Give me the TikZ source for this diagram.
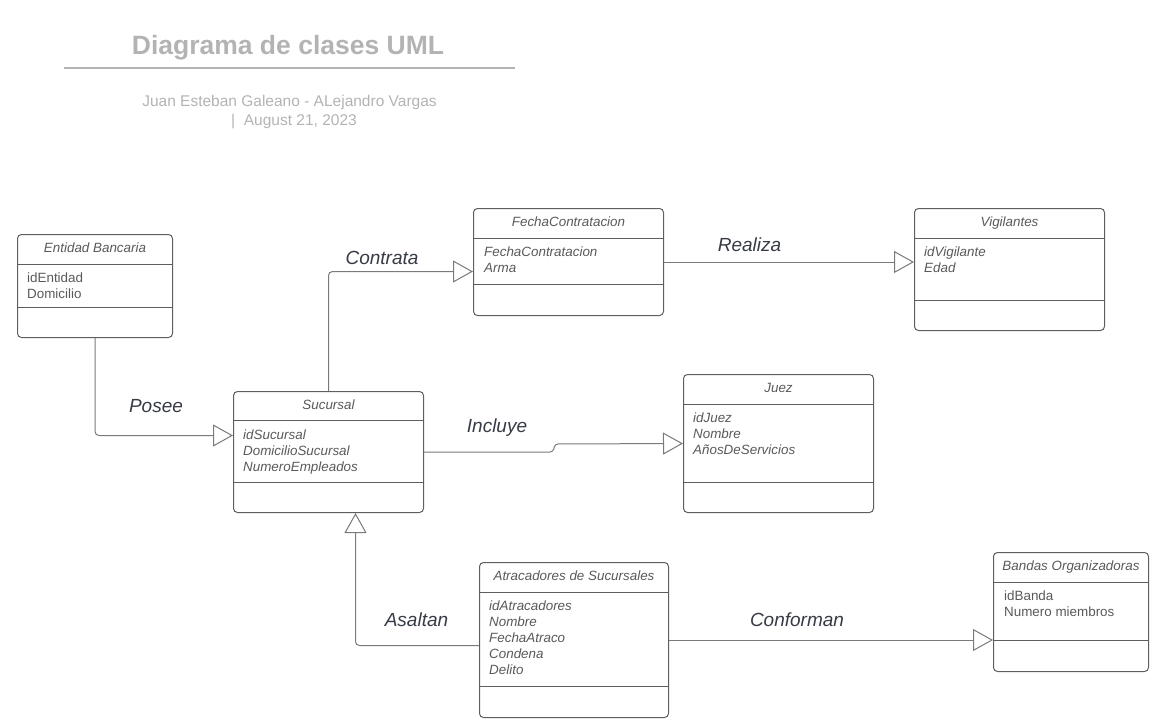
\documentclass[tikz,border=0pt]{standalone}
\usepackage{fontspec}
\setmainfont{Liberation Sans}
\usetikzlibrary{arrows.meta}
\definecolor{boxgray}{HTML}{5E5E5E}
\definecolor{linegray}{HTML}{7A7A7A}
\definecolor{textgray}{HTML}{595959}
\definecolor{labelgray}{HTML}{363B45}
\definecolor{titlegray}{HTML}{B3B3B3}

\begin{document}
\begin{tikzpicture}[x=1pt,y=-1pt,
  umlbox/.style={draw=boxgray,line width=1pt,rounded corners=4pt,anchor=north west,inner sep=0pt},
  umlsep/.style={draw=boxgray,line width=1pt},
  umltitle/.style={font=\fontsize{13.4}{16}\selectfont\itshape,text=textgray,anchor=base},
  umlattr/.style={font=\fontsize{13.4}{16}\selectfont\itshape,text=textgray,anchor=north west,align=left,inner sep=0pt},
  rel/.style={draw=linegray,line width=1pt,rounded corners=4pt,-{Triangle[length=20pt,width=22pt,fill=white]}},
  rellabel/.style={font=\fontsize{19}{22}\selectfont\itshape,text=labelgray,anchor=base}]
\useasboundingbox (0,0) rectangle (1151,725);
% heading
\node[font=\fontsize{26.5}{30}\selectfont\bfseries,text=titlegray,anchor=base] (title) at (288,55) {Diagrama de clases UML};
\draw[titlegray,line width=2pt] (64,68) -- (515,68);
\node[font=\fontsize{15.5}{19}\selectfont,text=titlegray,anchor=base] (author) at (289.5,106) {Juan Esteban Galeano - ALejandro Vargas};
\node[font=\fontsize{15.5}{19}\selectfont,text=titlegray,anchor=base] (date) at (294,125) {|\ \ August 21, 2023};
% Entidad Bancaria
\node[umlbox,minimum width=155pt,minimum height=103pt] (ent) at (17,234) {};
\draw[umlsep] ([yshift=-30pt]ent.north west) -- ([yshift=-30pt]ent.north east);
\draw[umlsep] ([yshift=-73pt]ent.north west) -- ([yshift=-73pt]ent.north east);
\node[umltitle] (entT) at ([yshift=-18.5pt]ent.north) {Entidad Bancaria};
\node[umlattr,font=\fontsize{13.4}{16}\selectfont] (entA) at ([xshift=10pt,yshift=-37pt]ent.north west) {\strut idEntidad\\Domicilio};
% Sucursal
\node[umlbox,minimum width=190pt,minimum height=121pt] (suc) at (233,391) {};
\draw[umlsep] ([yshift=-29pt]suc.north west) -- ([yshift=-29pt]suc.north east);
\draw[umlsep] ([yshift=-91pt]suc.north west) -- ([yshift=-91pt]suc.north east);
\node[umltitle] (sucT) at ([yshift=-18pt]suc.north) {Sucursal};
\node[umlattr] (sucA) at ([xshift=10pt,yshift=-37pt]suc.north west) {\strut idSucursal\\DomicilioSucursal\\NumeroEmpleados};
% FechaContratacion
\node[umlbox,minimum width=190pt,minimum height=107pt] (fecha) at (473,208) {};
\draw[umlsep] ([yshift=-30pt]fecha.north west) -- ([yshift=-30pt]fecha.north east);
\draw[umlsep] ([yshift=-76pt]fecha.north west) -- ([yshift=-76pt]fecha.north east);
\node[umltitle] (fechaT) at ([yshift=-18.5pt]fecha.north) {FechaContratacion};
\node[umlattr] (fechaA) at ([xshift=11pt,yshift=-37pt]fecha.north west) {\strut FechaContratacion\\Arma};
% Vigilantes
\node[umlbox,minimum width=190pt,minimum height=122pt] (vig) at (914,208) {};
\draw[umlsep] ([yshift=-30pt]vig.north west) -- ([yshift=-30pt]vig.north east);
\draw[umlsep] ([yshift=-92pt]vig.north west) -- ([yshift=-92pt]vig.north east);
\node[umltitle] (vigT) at ([yshift=-18.5pt]vig.north) {Vigilantes};
\node[umlattr] (vigA) at ([xshift=10pt,yshift=-37pt]vig.north west) {\strut idVigilante\\Edad};
% Juez
\node[umlbox,minimum width=190pt,minimum height=138pt] (juez) at (683,374) {};
\draw[umlsep] ([yshift=-30pt]juez.north west) -- ([yshift=-30pt]juez.north east);
\draw[umlsep] ([yshift=-108pt]juez.north west) -- ([yshift=-108pt]juez.north east);
\node[umltitle] (juezT) at ([yshift=-18.5pt]juez.north) {Juez};
\node[umlattr] (juezA) at ([xshift=10pt,yshift=-37pt]juez.north west) {\strut idJuez\\Nombre\\AñosDeServicios};
% Atracadores de Sucursales
\node[umlbox,minimum width=189pt,minimum height=155pt] (atr) at (479,562) {};
\draw[umlsep] ([yshift=-30pt]atr.north west) -- ([yshift=-30pt]atr.north east);
\draw[umlsep] ([yshift=-124pt]atr.north west) -- ([yshift=-124pt]atr.north east);
\node[umltitle] (atrT) at ([yshift=-18.5pt]atr.north) {Atracadores de Sucursales};
\node[umlattr] (atrA) at ([xshift=10pt,yshift=-37pt]atr.north west) {\strut idAtracadores\\Nombre\\FechaAtraco\\Condena\\Delito};
% Bandas Organizadoras
\node[umlbox,minimum width=155pt,minimum height=119pt] (band) at (993,552) {};
\draw[umlsep] ([yshift=-30pt]band.north west) -- ([yshift=-30pt]band.north east);
\draw[umlsep] ([yshift=-88pt]band.north west) -- ([yshift=-88pt]band.north east);
\node[umltitle] (bandT) at ([yshift=-18.5pt]band.north) {Bandas Organizadoras};
\node[umlattr,font=\fontsize{13.4}{16}\selectfont] (bandA) at ([xshift=11pt,yshift=-37pt]band.north west) {\strut idBanda\\Numero miembros};
% relations
\draw[rel] (ent.south) |- ([yshift=16.5pt]suc.west);
\draw[rel] (suc.north) |- ([yshift=-9.5pt]fecha.west);
\draw[rel] (fecha.east) -- (fecha.east -| vig.west);
\draw[rel,rounded corners=3pt] (suc.east) -- ++(129,0) -- ++(2,-8) -- (juez.west);
\draw[rel] ([yshift=-5.5pt]atr.west) -| ([xshift=27pt]suc.south);
\draw[rel] (atr.east) -- (atr.east -| band.west);
\node[rellabel] (posee) at (156,412) {Posee};
\node[rellabel] (contrata) at (382,264) {Contrata};
\node[rellabel] (realiza) at (749.5,251) {Realiza};
\node[rellabel] (incluye) at (497,432) {Incluye};
\node[rellabel] (asaltan) at (416.5,626) {Asaltan};
\node[rellabel] (conforman) at (797,626) {Conforman};
\end{tikzpicture}
\end{document}
